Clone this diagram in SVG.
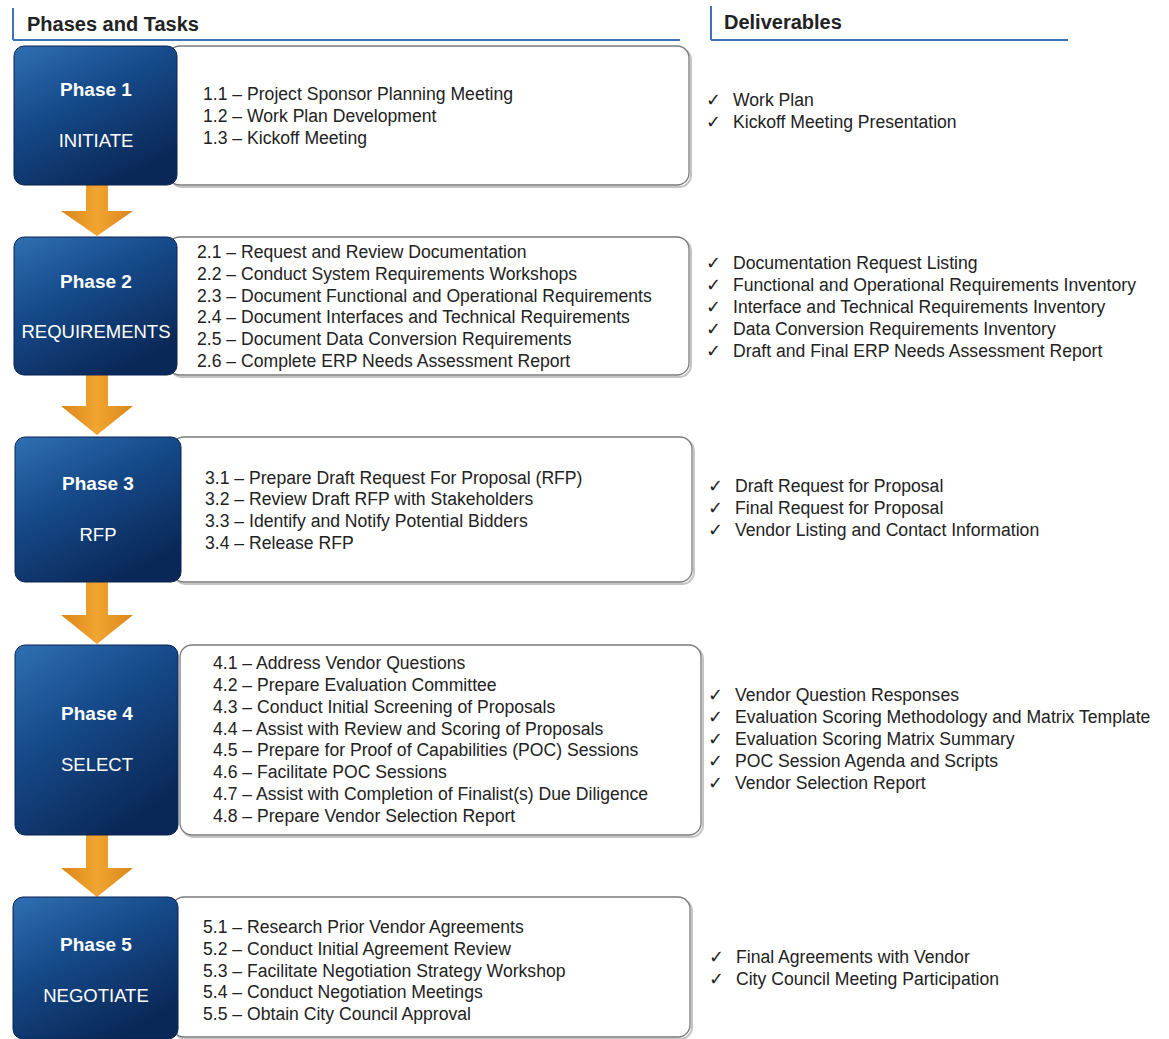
<svg xmlns="http://www.w3.org/2000/svg" width="1169" height="1039" viewBox="0 0 1169 1039">
<defs>
<linearGradient id="phaseGrad" x1="0" y1="0" x2="0.6" y2="1">
<stop offset="0" stop-color="#2f70b2"/>
<stop offset="0.45" stop-color="#164a8a"/>
<stop offset="1" stop-color="#0a2857"/>
</linearGradient>
<linearGradient id="arrowGrad" x1="0" y1="0" x2="1" y2="0">
<stop offset="0" stop-color="#d9861a"/>
<stop offset="0.5" stop-color="#f2a531"/>
<stop offset="1" stop-color="#d9861a"/>
</linearGradient>
<style>
.hdr{font-family:"Liberation Sans",Arial,sans-serif;font-weight:bold;font-size:20px;fill:#222}
.hline{stroke:#3d72b8;stroke-width:2;fill:none}
.phase{fill:url(#phaseGrad);stroke:#0a2350;stroke-width:1}
.pt{font-family:"Liberation Sans",Arial,sans-serif;font-weight:bold;font-size:19px;fill:#fff;text-anchor:middle}
.pn{font-family:"Liberation Sans",Arial,sans-serif;font-size:18.5px;fill:#fff;text-anchor:middle}
.card{fill:#fff;stroke:#7a7a7a;stroke-width:1.3}
.shadow{fill:none;stroke:#c4c4c4;stroke-width:2}
.task{font-family:"Liberation Sans",Arial,sans-serif;font-size:17.6px;fill:#222}
.del{font-family:"Liberation Sans",Arial,sans-serif;font-size:17.6px;fill:#222}
.arrow{fill:url(#arrowGrad)}
</style>
</defs>
<rect width="1169" height="1039" fill="#fff"/>

<g id="header-left">
<line class="hline" x1="13" y1="8" x2="13" y2="40"/>
<line class="hline" x1="13" y1="40" x2="680" y2="40"/>
<text class="hdr" x="27" y="31">Phases and Tasks</text>
</g>
<g id="header-right">
<line class="hline" x1="711" y1="6" x2="711" y2="40"/>
<line class="hline" x1="711" y1="40" x2="1068" y2="40"/>
<text class="hdr" x="724" y="29">Deliverables</text>
</g>

<g id="connectors">
<polygon class="arrow" points="86,185 108,185 108,211 133,211 97,236 61,211 86,211"/>
<polygon class="arrow" points="86,375 108,375 108,406 133,406 97,435 61,406 86,406"/>
<polygon class="arrow" points="86,582 108,582 108,615 133,615 97,644 61,615 86,615"/>
<polygon class="arrow" points="86,835 108,835 108,868 133,868 97,897 61,868 86,868"/>
</g>

<g id="phase1">
<rect class="shadow" x="170" y="48" width="521" height="139" rx="12"/>
<rect class="card" x="168" y="46" width="521" height="139" rx="12"/>
<rect class="phase" x="14" y="46" width="163" height="139" rx="10"/>
<text class="pt" x="96" y="96">Phase 1</text>
<text class="pn" x="96" y="147">INITIATE</text>
<text class="task" x="203" y="100">1.1 – Project Sponsor Planning Meeting</text>
<text class="task" x="203" y="122">1.2 – Work Plan Development</text>
<text class="task" x="203" y="144">1.3 – Kickoff Meeting</text>
<text class="del" x="706" y="106">✓</text><text class="del" x="733" y="106">Work Plan</text>
<text class="del" x="706" y="128">✓</text><text class="del" x="733" y="128">Kickoff Meeting Presentation</text>
</g>

<g id="phase2">
<rect class="shadow" x="170" y="239" width="521" height="138" rx="12"/>
<rect class="card" x="168" y="237" width="521" height="138" rx="12"/>
<rect class="phase" x="14" y="237" width="163" height="138" rx="10"/>
<text class="pt" x="96" y="288">Phase 2</text>
<text class="pn" x="96" y="338">REQUIREMENTS</text>
<text class="task" x="197" y="258">2.1 – Request and Review Documentation</text>
<text class="task" x="197" y="280">2.2 – Conduct System Requirements Workshops</text>
<text class="task" x="197" y="302">2.3 – Document Functional and Operational Requirements</text>
<text class="task" x="197" y="323">2.4 – Document Interfaces and Technical Requirements</text>
<text class="task" x="197" y="345">2.5 – Document Data Conversion Requirements</text>
<text class="task" x="197" y="367">2.6 – Complete ERP Needs Assessment Report</text>
<text class="del" x="706" y="269">✓</text><text class="del" x="733" y="269">Documentation Request Listing</text>
<text class="del" x="706" y="291">✓</text><text class="del" x="733" y="291">Functional and Operational Requirements Inventory</text>
<text class="del" x="706" y="313">✓</text><text class="del" x="733" y="313">Interface and Technical Requirements Inventory</text>
<text class="del" x="706" y="335">✓</text><text class="del" x="733" y="335">Data Conversion Requirements Inventory</text>
<text class="del" x="706" y="357">✓</text><text class="del" x="733" y="357">Draft and Final ERP Needs Assessment Report</text>
</g>

<g id="phase3">
<rect class="shadow" x="174" y="439" width="520" height="145" rx="12"/>
<rect class="card" x="172" y="437" width="520" height="145" rx="12"/>
<rect class="phase" x="15" y="437" width="166" height="145" rx="10"/>
<text class="pt" x="98" y="490">Phase 3</text>
<text class="pn" x="98" y="541">RFP</text>
<text class="task" x="205" y="484">3.1 – Prepare Draft Request For Proposal (RFP)</text>
<text class="task" x="205" y="505">3.2 – Review Draft RFP with Stakeholders</text>
<text class="task" x="205" y="527">3.3 – Identify and Notify Potential Bidders</text>
<text class="task" x="205" y="549">3.4 – Release RFP</text>
<text class="del" x="708" y="492">✓</text><text class="del" x="735" y="492">Draft Request for Proposal</text>
<text class="del" x="708" y="514">✓</text><text class="del" x="735" y="514">Final Request for Proposal</text>
<text class="del" x="708" y="536">✓</text><text class="del" x="735" y="536">Vendor Listing and Contact Information</text>
</g>

<g id="phase4">
<rect class="shadow" x="182" y="647" width="521" height="190" rx="12"/>
<rect class="card" x="180" y="645" width="521" height="190" rx="12"/>
<rect class="phase" x="15" y="645" width="163" height="190" rx="10"/>
<text class="pt" x="97" y="720">Phase 4</text>
<text class="pn" x="97" y="771">SELECT</text>
<text class="task" x="213" y="669">4.1 – Address Vendor Questions</text>
<text class="task" x="213" y="691">4.2 – Prepare Evaluation Committee</text>
<text class="task" x="213" y="713">4.3 – Conduct Initial Screening of Proposals</text>
<text class="task" x="213" y="735">4.4 – Assist with Review and Scoring of Proposals</text>
<text class="task" x="213" y="756">4.5 – Prepare for Proof of Capabilities (POC) Sessions</text>
<text class="task" x="213" y="778">4.6 – Facilitate POC Sessions</text>
<text class="task" x="213" y="800">4.7 – Assist with Completion of Finalist(s) Due Diligence</text>
<text class="task" x="213" y="822">4.8 – Prepare Vendor Selection Report</text>
<text class="del" x="708" y="701">✓</text><text class="del" x="735" y="701">Vendor Question Responses</text>
<text class="del" x="708" y="723">✓</text><text class="del" x="735" y="723">Evaluation Scoring Methodology and Matrix Template</text>
<text class="del" x="708" y="745">✓</text><text class="del" x="735" y="745">Evaluation Scoring Matrix Summary</text>
<text class="del" x="708" y="767">✓</text><text class="del" x="735" y="767">POC Session Agenda and Scripts</text>
<text class="del" x="708" y="789">✓</text><text class="del" x="735" y="789">Vendor Selection Report</text>
</g>

<g id="phase5">
<rect class="shadow" x="174" y="899" width="518" height="140" rx="12"/>
<rect class="card" x="172" y="897" width="518" height="140" rx="12"/>
<rect class="phase" x="13" y="897" width="165" height="142" rx="10"/>
<text class="pt" x="96" y="951">Phase 5</text>
<text class="pn" x="96" y="1002">NEGOTIATE</text>
<text class="task" x="203" y="933">5.1 – Research Prior Vendor Agreements</text>
<text class="task" x="203" y="955">5.2 – Conduct Initial Agreement Review</text>
<text class="task" x="203" y="977">5.3 – Facilitate Negotiation Strategy Workshop</text>
<text class="task" x="203" y="998">5.4 – Conduct Negotiation Meetings</text>
<text class="task" x="203" y="1020">5.5 – Obtain City Council Approval</text>
<text class="del" x="709" y="963">✓</text><text class="del" x="736" y="963">Final Agreements with Vendor</text>
<text class="del" x="709" y="985">✓</text><text class="del" x="736" y="985">City Council Meeting Participation</text>
</g>
</svg>
